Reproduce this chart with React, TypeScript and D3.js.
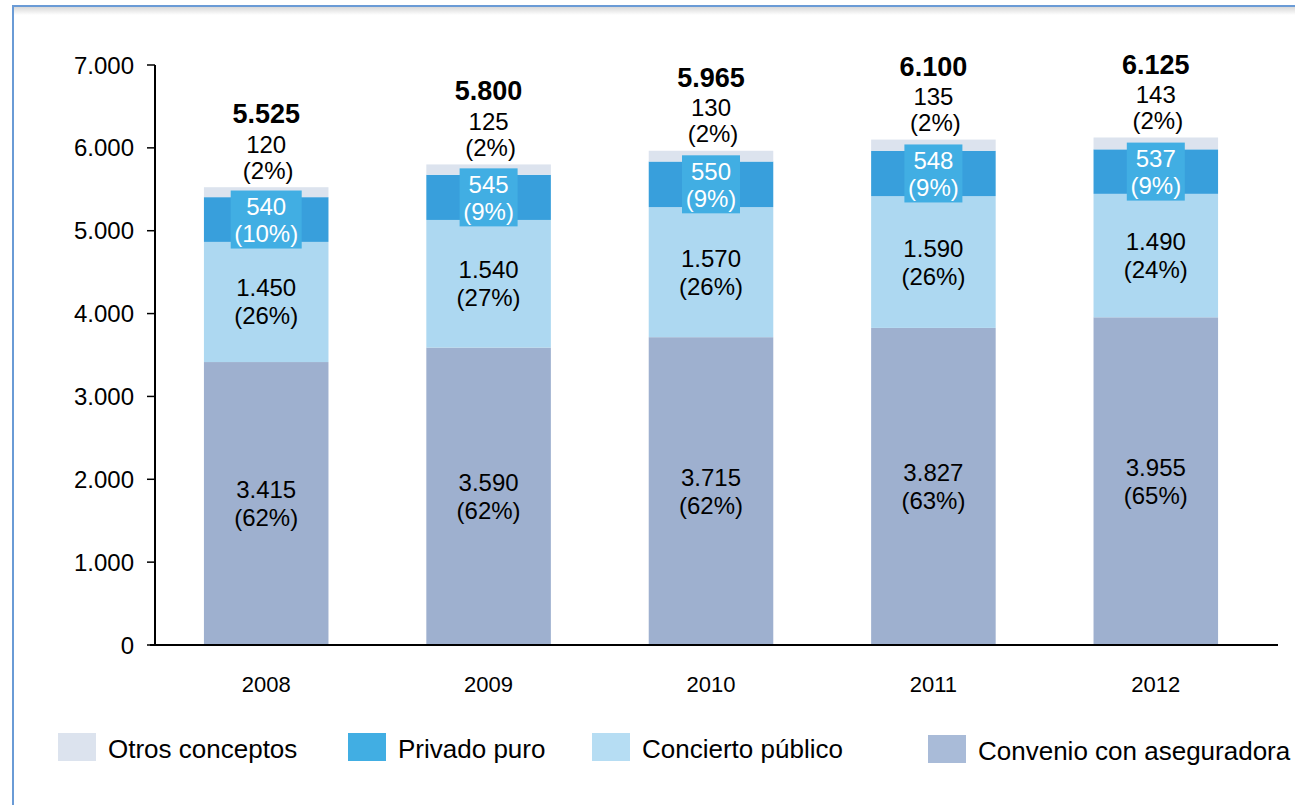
import React from 'react';
import * as d3 from 'd3';

const years = ['2008', '2009', '2010', '2011', '2012'];
const convenio = [3415, 3590, 3715, 3827, 3955];
const concierto = [1450, 1540, 1570, 1590, 1490];
const privado = [540, 545, 550, 548, 537];
const otros = [120, 125, 130, 135, 143];

const convenioPct = ['62%', '62%', '62%', '63%', '65%'];
const conciertoPct = ['26%', '27%', '26%', '26%', '24%'];
const privadoPct = ['10%', '9%', '9%', '9%', '9%'];
const otrosPct = ['2%', '2%', '2%', '2%', '2%'];

const yTicks = [0, 1000, 2000, 3000, 4000, 5000, 6000, 7000];

const seriesNames = ['Otros conceptos', 'Privado puro', 'Concierto público', 'Convenio con aseguradora'];

const W = 1295;
const H = 805;
const FONT = "'Liberation Sans', Arial, sans-serif";

const colors = {
  otros: '#DCE3EE',
  privado: '#389FDC',
  concierto: '#ADD8F1',
  convenio: '#9EB0CF',
  box: '#41AEE3',
};

const fmt = (v: number) => {
  const s = String(v);
  return s.length > 3 ? s.slice(0, s.length - 3) + '.' + s.slice(-3) : s;
};

const App = () => {
  const x = d3.scaleBand().domain(years).range([155, 1267]).paddingInner(0.44).paddingOuter(0.22);
  const y = d3.scaleLinear().domain([0, 7000]).range([645, 65]);

  const keys = ['convenio', 'concierto', 'privado', 'otros'];
  const rows = years.map((yr, i) => ({
    year: yr,
    convenio: convenio[i],
    concierto: concierto[i],
    privado: privado[i],
    otros: otros[i],
  }));
  const stack = d3.stack<any>().keys(keys)(rows);

  const legendColors = [colors.otros, colors.box, '#B6DDF3', '#A9BBD8'];
  const legendX = [58, 348, 592, 928];
  const legendY = [733, 733, 733, 735];

  return (
    <div style={{ position: 'fixed', left: 0, top: 0 }}>
      <svg width={W} height={H} style={{ display: 'block', background: '#fff', fontFamily: FONT }}>
        <defs>
          <linearGradient id="shadowTop" x1="0" y1="0" x2="0" y2="1">
            <stop offset="0%" stopColor="#d8d8d8" />
            <stop offset="100%" stopColor="#ffffff" />
          </linearGradient>
        </defs>
        {/* frame */}
        <rect x={14} y={7} width={W - 14} height={8} fill="url(#shadowTop)" />
        <line x1={13} x2={W} y1={6} y2={6} stroke="#6A9BD6" strokeWidth={2} />
        <line x1={13} x2={13} y1={5} y2={H} stroke="#6A9BD6" strokeWidth={2} />

        {/* bars */}
        {stack.map((layer) => (
          <g key={layer.key}>
            {layer.map((d, i) => (
              <rect
                key={i}
                x={x(years[i])}
                width={x.bandwidth()}
                y={y(d[1])}
                height={y(d[0]) - y(d[1])}
                fill={(colors as any)[layer.key]}
              />
            ))}
          </g>
        ))}

        {/* y axis */}
        <line x1={155} x2={155} y1={y(7000)} y2={y(0)} stroke="#000" strokeWidth={2} />
        {yTicks.map((t) => (
          <g key={t}>
            <line x1={147} x2={155} y1={y(t)} y2={y(t)} stroke="#000" strokeWidth={1.5} />
            <text x={134} y={y(t)} textAnchor="end" dominantBaseline="central" fontSize={24}>
              {fmt(t)}
            </text>
          </g>
        ))}
        {/* x axis */}
        <line x1={150} x2={1278} y1={y(0)} y2={y(0)} stroke="#000" strokeWidth={2} />
        {years.map((yr) => (
          <text key={yr} x={x(yr)! + x.bandwidth() / 2} y={684} textAnchor="middle" dominantBaseline="central" fontSize={22}>
            {yr}
          </text>
        ))}

        {/* labels */}
        {years.map((yr, i) => {
          const cx = x(yr)! + x.bandwidth() / 2;
          const conv = stack[0][i];
          const conc = stack[1][i];
          const priv = stack[2][i];
          const otr = stack[3][i];
          const convMid = (y(conv[0]) + y(conv[1])) / 2;
          const concMid = (y(conc[0]) + y(conc[1])) / 2;
          const privMid = (y(priv[0]) + y(priv[1])) / 2;
          const top = y(otr[1]);
          const pctText = `(${privadoPct[i]})`;
          const boxW = pctText.length > 4 ? 71 : 58;
          return (
            <g key={yr} fontSize={24}>
              <text x={cx} y={convMid - 14} textAnchor="middle" dominantBaseline="central">{fmt(convenio[i])}</text>
              <text x={cx} y={convMid + 14} textAnchor="middle" dominantBaseline="central">({convenioPct[i]})</text>
              <text x={cx} y={concMid - 14} textAnchor="middle" dominantBaseline="central">{fmt(concierto[i])}</text>
              <text x={cx} y={concMid + 14} textAnchor="middle" dominantBaseline="central">({conciertoPct[i]})</text>
              <rect x={cx - boxW / 2} y={privMid - 29} width={boxW} height={58} fill={colors.box} />
              <text x={cx} y={privMid - 13} textAnchor="middle" dominantBaseline="central" fill="#fff">{fmt(privado[i])}</text>
              <text x={cx} y={privMid + 14} textAnchor="middle" dominantBaseline="central" fill="#fff">{pctText}</text>
              <text x={cx} y={top - 43} textAnchor="middle" dominantBaseline="central">{fmt(otros[i])}</text>
              <text x={cx + 2} y={top - 17} textAnchor="middle" dominantBaseline="central">({otrosPct[i]})</text>
              <text x={cx} y={top - 73} textAnchor="middle" dominantBaseline="central" fontWeight="bold" fontSize={27}>
                {fmt(otr[1])}
              </text>
            </g>
          );
        })}

        {/* legend */}
        {seriesNames.map((name, i) => (
          <g key={name}>
            <rect x={legendX[i]} y={legendY[i]} width={38} height={28} fill={legendColors[i]} />
            <text x={legendX[i] + 50} y={legendY[i] + 16} dominantBaseline="central" fontSize={26}>
              {name}
            </text>
          </g>
        ))}
      </svg>
    </div>
  );
};

export default App;
